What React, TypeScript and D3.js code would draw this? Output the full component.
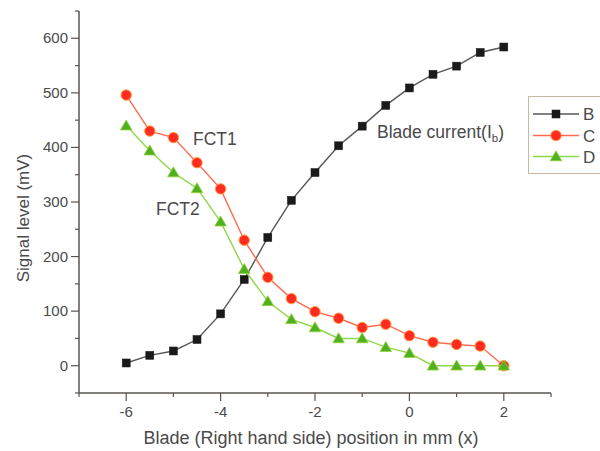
import React from "react";
import * as d3 from "d3";

const xs = [-6, -5.5, -5, -4.5, -4, -3.5, -3, -2.5, -2, -1.5, -1, -0.5, 0, 0.5, 1, 1.5, 2];
const seriesB = [5, 19, 27, 48, 95, 158, 235, 303, 354, 403, 439, 477, 509, 534, 549, 574, 584];
const seriesC = [496, 430, 418, 372, 324, 230, 162, 123, 99, 87, 70, 76, 55, 43, 39, 36, 0];
const seriesD = [440, 394, 354, 325, 264, 177, 118, 85, 70, 50, 50, 34, 23, 0, 0, 0, 0];
const xMajorTicks = [-6, -4, -2, 0, 2];
const xMinorTicks = [-7, -5, -3, -1, 1, 3];
const yMajorTicks = [0, 100, 200, 300, 400, 500, 600];
const yMinorTicks = [-50, 50, 150, 250, 350, 450, 550, 650];
const legendNames = ["B", "C", "D"];

const FONT = "'Liberation Sans', Arial, sans-serif";
const TEXT = "#4a4a4a";
const AXIS = "#5a5450";

export default function App() {
  const W = 600, H = 451;
  const x = d3.scaleLinear().domain([-7, 3]).range([79, 551]);
  const y = d3.scaleLinear().domain([-50, 650]).range([393, 11]);

  const line = (vals: number[]) =>
    d3.line<number>().x((_, i) => x(xs[i])).y((v) => y(v))(vals) || "";

  const series = [
    { name: "B", vals: seriesB, line: "#5a5555", fill: "#1a1a1a", stroke: "#1a1a1a", shape: "square" },
    { name: "C", vals: seriesC, line: "#ff6a50", fill: "#ff2a20", stroke: "#ff9a40", shape: "circle" },
    { name: "D", vals: seriesD, line: "#8fd84a", fill: "#4fb020", stroke: "#9ad040", shape: "triangle" },
  ];

  const marker = (shape: string, cx: number, cy: number, fill: string, stroke: string, key: string) => {
    if (shape === "square")
      return <rect key={key} x={cx - 4} y={cy - 4} width={8} height={8} fill={fill} stroke={stroke} strokeWidth={0.5} />;
    if (shape === "circle")
      return <circle key={key} cx={cx} cy={cy} r={5.2} fill={fill} stroke={stroke} strokeWidth={1} />;
    const p = d3.symbol().type(d3.symbolTriangle).size(58)() || "";
    return <path key={key} d={p} transform={`translate(${cx},${cy + 1})`} fill={fill} stroke={stroke} strokeWidth={0.8} />;
  };

  const legendY = [114, 135.5, 156.5];

  return (
    <svg width={W} height={H} style={{ position: "absolute", left: 0, top: 0, background: "#fff" }} fontFamily={FONT}>
      <rect x={0} y={0} width={W} height={H} fill="#fff" />
      {/* axes */}
      <line x1={79} y1={y(650)} x2={79} y2={y(-50)} stroke={AXIS} strokeWidth={1.5} />
      <line x1={x(-7)} y1={393} x2={x(3)} y2={393} stroke={AXIS} strokeWidth={1.5} />
      {yMajorTicks.map((t) => (
        <g key={"ym" + t}>
          <line x1={71} x2={79} y1={y(t)} y2={y(t)} stroke={AXIS} strokeWidth={1.2} />
          <text x={68} y={y(t) + 5} textAnchor="end" fontSize={15} fill={TEXT}>{t}</text>
        </g>
      ))}
      {yMinorTicks.map((t) => (
        <line key={"yn" + t} x1={75} x2={79} y1={y(t)} y2={y(t)} stroke={AXIS} strokeWidth={1.2} />
      ))}
      {xMajorTicks.map((t) => (
        <g key={"xm" + t}>
          <line x1={x(t)} x2={x(t)} y1={393} y2={401} stroke={AXIS} strokeWidth={1.2} />
          <text x={x(t)} y={417} textAnchor="middle" fontSize={15} fill={TEXT}>{t < 0 ? "-" + Math.abs(t) : t}</text>
        </g>
      ))}
      {xMinorTicks.map((t) => (
        <line key={"xn" + t} x1={x(t)} x2={x(t)} y1={393} y2={397} stroke={AXIS} strokeWidth={1.2} />
      ))}
      {/* axis titles */}
      <text x={311} y={444} textAnchor="middle" fontSize={18} fill={TEXT}>Blade (Right hand side) position in mm (x)</text>
      <text transform="translate(29,218) rotate(-90)" textAnchor="middle" fontSize={17} fill={TEXT}>Signal level (mV)</text>

      {/* series */}
      {series.map((s) => (
        <g key={s.name}>
          <path d={line(s.vals)} fill="none" stroke={s.line} strokeWidth={1.4} />
          {s.vals.map((v, i) => marker(s.shape, x(xs[i]), y(v), s.fill, s.stroke, s.name + i))}
        </g>
      ))}

      {/* annotations */}
      <text x={193} y={145} fontSize={17.5} fill={TEXT}>FCT1</text>
      <text x={156} y={215} fontSize={17.5} fill={TEXT}>FCT2</text>
      <text x={377} y={138} fontSize={17.5} fill={TEXT}>
        Blade current(I<tspan fontSize={11.5} dy={4}>b</tspan><tspan dy={-4}>)</tspan>
      </text>

      {/* legend */}
      <rect x={528.5} y={96.5} width={80} height={77} fill="#fff" stroke="#c8b8a8" strokeWidth={1} />
      {series.map((s, i) => (
        <g key={"lg" + s.name}>
          <line x1={533} x2={579} y1={legendY[i]} y2={legendY[i]} stroke={s.line} strokeWidth={1.4} />
          {marker(s.shape, 556, legendY[i], s.fill, s.stroke, "lm" + i)}
          <text x={583} y={legendY[i] + 6} fontSize={17} fill={TEXT}>{legendNames[i]}</text>
        </g>
      ))}
    </svg>
  );
}
